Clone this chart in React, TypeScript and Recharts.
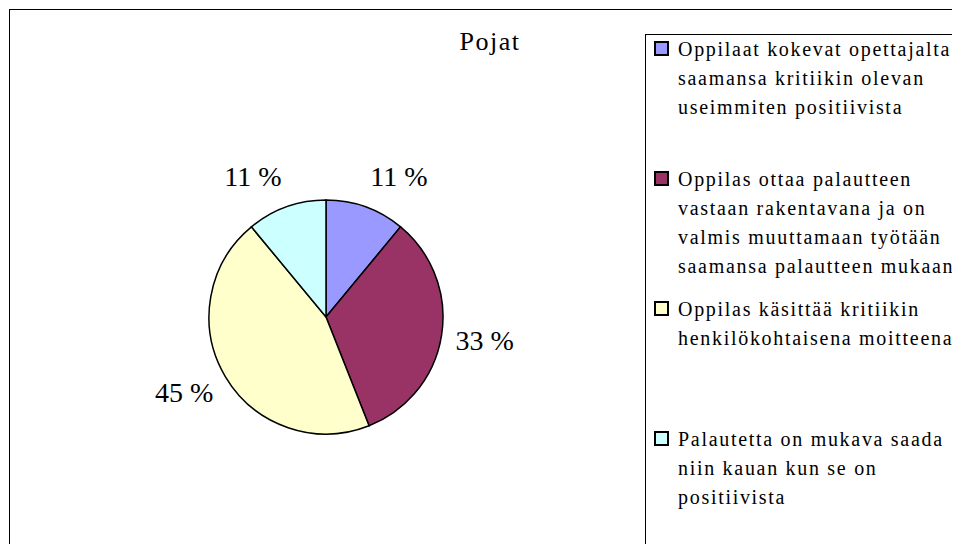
import { PieChart, Pie, Cell, Legend } from 'recharts';

const TITLE = 'Pojat';
const CATEGORIES = [
  'Oppilaat kokevat opettajalta\nsaamansa kritiikin olevan\nuseimmiten positiivista',
  'Oppilas ottaa palautteen\nvastaan rakentavana ja on\nvalmis muuttamaan työtään\nsaamansa palautteen mukaan',
  'Oppilas käsittää kritiikin\nhenkilökohtaisena moitteena',
  'Palautetta on mukava saada\nniin kauan kun se on\npositiivista',
];
const SHARES = [11, 33, 45, 11];
const COLORS = ['#9999FF', '#993366', '#FFFFCC', '#CCFFFF'];

const data = CATEGORIES.map((name, i) => ({ name, value: SHARES[i] }));

const FONT = '"Liberation Serif", "Times New Roman", serif';
const RADIAN = Math.PI / 180;

// Excel-style outside labels: anchored just past the rim, text grows away from the pie
function renderLabel(props: any) {
  const { cx, cy, midAngle, outerRadius, value } = props;
  const dx = Math.cos(-midAngle * RADIAN);
  const dy = Math.sin(-midAngle * RADIAN);
  const r = outerRadius + 14;
  const x = cx + r * dx;
  const y = cy + r * dy + dy * 18;
  return (
    <text
      x={x}
      y={y}
      textAnchor={dx >= 0 ? 'start' : 'end'}
      dominantBaseline="central"
      fontFamily={FONT}
      fontSize={28}
      fill="#000"
    >
      {`${value} %`}
    </text>
  );
}

function LegendBox({ payload }: any) {
  // keep the data order, whatever order the payload comes in
  const items = CATEGORIES.map((name, i) => {
    const found = (payload || []).find((p: any) => p.value === name);
    return { name, color: found?.color || COLORS[i] };
  });
  return (
    <div
      style={{
        border: '1px solid #000',
        width: 330,
        height: 520,
        boxSizing: 'border-box',
        paddingLeft: 8,
        fontFamily: FONT,
        fontSize: 20,
        letterSpacing: 1.7,
        lineHeight: '29px',
        color: '#000',
        background: '#fff',
      }}
    >
      {items.map((entry, i) => (
        <div key={i} style={{ display: 'flex', height: 130, alignItems: 'flex-start' }}>
          <span
            style={{
              width: 15,
              height: 15,
              boxSizing: 'border-box',
              border: '2px solid #000',
              background: COLORS[i],
              marginTop: 6,
              marginRight: 9,
              flexShrink: 0,
            }}
          />
          <span style={{ whiteSpace: 'pre' }}>{entry.name}</span>
        </div>
      ))}
    </div>
  );
}

export default function App() {
  return (
    <div style={{ position: 'relative', width: 952, height: 536, overflow: 'hidden', background: '#fff' }}>
      <div
        style={{
          position: 'absolute',
          left: 1,
          top: 1,
          width: 1000,
          height: 600,
          border: '1px solid #000',
        }}
      />
      <div
        style={{
          position: 'absolute',
          left: 382,
          top: 19,
          width: 200,
          textAlign: 'center',
          fontFamily: FONT,
          fontSize: 26,
          letterSpacing: 1.5,
          lineHeight: '30px',
          color: '#000',
        }}
      >
        {TITLE}
      </div>
      <div style={{ position: 'absolute', left: 0, top: 0 }}>
        <PieChart width={952} height={536} margin={{ top: 0, right: 0, bottom: 0, left: 0 }}>
          <Pie
            data={data}
            dataKey="value"
            nameKey="name"
            cx={318}
            cy={309}
            outerRadius={117}
            startAngle={90}
            endAngle={-270}
            stroke="#000"
            strokeWidth={1.5}
            label={renderLabel}
            labelLine={false}
            isAnimationActive={false}
          >
            {data.map((d, i) => (
              <Cell key={d.name} fill={COLORS[i]} />
            ))}
          </Pie>
          <Legend
            content={<LegendBox />}
            wrapperStyle={{ left: 637, top: 26, width: 330, height: 520 }}
          />
        </PieChart>
      </div>
    </div>
  );
}
